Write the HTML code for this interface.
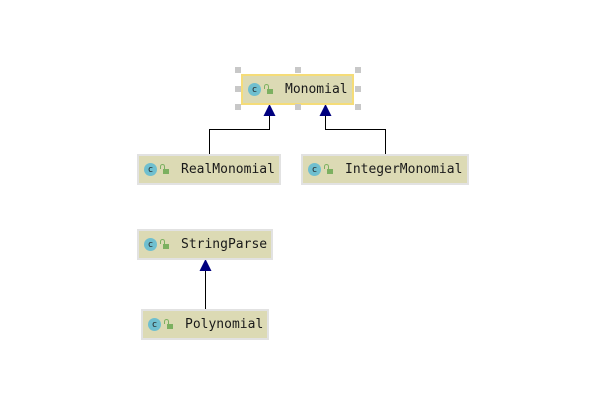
<!DOCTYPE html>
<html><head><style>
body{margin:0;width:591px;height:411px;background:#fff;position:relative;overflow:hidden;font-family:"DejaVu Sans Mono","Liberation Mono",monospace}
.b{position:absolute;background:#dcdab4;border:2px solid #e2e2e2;box-sizing:border-box;height:31px;display:flex;align-items:center;font-size:13px;color:#1a1a1a}
.c{width:13px;height:13px;border-radius:50%;background:#6fbfcf;margin-left:5px;font-size:9px;display:flex;align-items:center;justify-content:center;color:#222}
.l{width:6px;height:5px;background:#7cb060;margin-left:6px;margin-top:4px;position:relative}
.l:before{content:"";position:absolute;left:-3px;top:-5px;width:3px;height:4px;border:1.5px solid #7cb060;border-bottom:none;border-radius:3px 3px 0 0}
.t{margin-left:12px}
.h{position:absolute;width:6px;height:6px;background:#c8c8c8}
</style></head><body>
<svg width="591" height="411" style="position:absolute;left:0;top:0">
<g stroke="#000" fill="none" stroke-width="1">
<polyline points="209.5,154 209.5,129.5 269.5,129.5 269.5,114"/>
<polyline points="385.5,154 385.5,129.5 325.5,129.5 325.5,114"/>
<line x1="205.5" y1="309" x2="205.5" y2="270"/>
</g>
<g fill="#00007f">
<polygon points="269.5,104 263.5,116 275.5,116"/>
<polygon points="325.5,104 319.5,116 331.5,116"/>
<polygon points="205.5,259 199.5,271 211.5,271"/>
</g>
</svg>
<div class="b" style="left:241px;top:74px;width:113px;border-color:#f5dc78"><div class="c">c</div><div class="l"></div><span class="t">Monomial</span></div>
<div class="b" style="left:137px;top:154px;width:144px"><div class="c">c</div><div class="l"></div><span class="t">RealMonomial</span></div>
<div class="b" style="left:301px;top:154px;width:168px"><div class="c">c</div><div class="l"></div><span class="t">IntegerMonomial</span></div>
<div class="b" style="left:137px;top:229px;width:136px"><div class="c">c</div><div class="l"></div><span class="t">StringParse</span></div>
<div class="b" style="left:141px;top:309px;width:128px"><div class="c">c</div><div class="l"></div><span class="t">Polynomial</span></div>
<div class="h" style="left:235px;top:67px"></div>
<div class="h" style="left:295px;top:67px"></div>
<div class="h" style="left:355px;top:67px"></div>
<div class="h" style="left:235px;top:86px"></div>
<div class="h" style="left:355px;top:86px"></div>
<div class="h" style="left:235px;top:104px"></div>
<div class="h" style="left:295px;top:104px"></div>
<div class="h" style="left:355px;top:104px"></div>
</body></html>
